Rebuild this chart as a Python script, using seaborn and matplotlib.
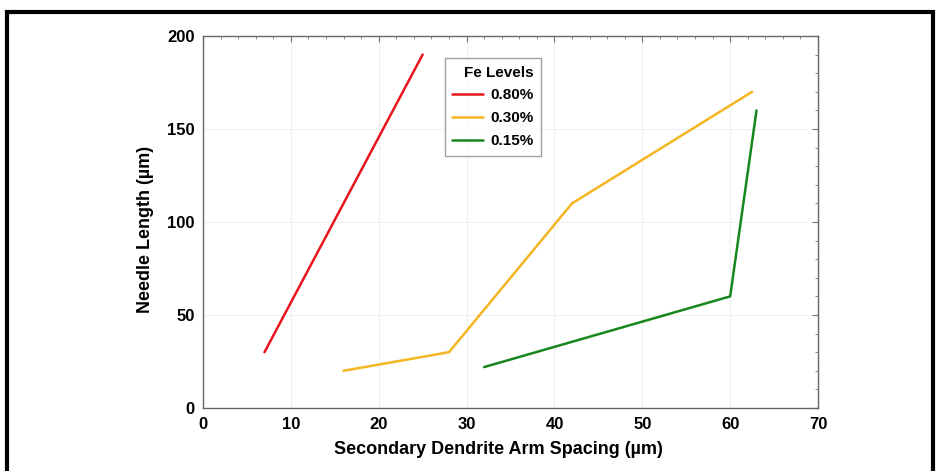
import matplotlib
matplotlib.use("Agg")
import matplotlib.pyplot as plt
import seaborn as sns
import pandas as pd
from matplotlib.ticker import MultipleLocator
from matplotlib.patches import Rectangle

# Data
red_x = [7, 25]
red_y = [30, 190]
orange_x = [16, 28, 42, 62.5]
orange_y = [20, 30, 110, 170]
green_x = [32, 60, 63]
green_y = [22, 60, 160]
series_names = ["0.80%", "0.30%", "0.15%"]
colors = ["#e8161c", "#f5b520", "#17861c"]

df = pd.concat([
    pd.DataFrame({"x": red_x, "y": red_y, "Fe": series_names[0]}),
    pd.DataFrame({"x": orange_x, "y": orange_y, "Fe": series_names[1]}),
    pd.DataFrame({"x": green_x, "y": green_y, "Fe": series_names[2]}),
], ignore_index=True)

sns.set_theme(style="white")
plt.rcParams['font.family'] = ['Liberation Sans', 'DejaVu Sans']

fig = plt.figure(figsize=(9.38, 4.71), dpi=100)
ax = fig.add_axes([0.2164, 0.1338, 0.6557, 0.7898])

sns.lineplot(data=df, x="x", y="y", hue="Fe", palette=colors, sort=False,
             linewidth=1.8, ax=ax, estimator=None)

ax.set_xlim(0, 70)
ax.set_ylim(0, 200)
ax.xaxis.set_major_locator(MultipleLocator(10))
ax.xaxis.set_minor_locator(MultipleLocator(2))
ax.yaxis.set_major_locator(MultipleLocator(50))
ax.yaxis.set_minor_locator(MultipleLocator(10))
ax.tick_params(which="both", direction="in", top=True, right=True, colors="#777777",
               labelcolor="black")
ax.tick_params(which="major", length=4, width=0.8, labelsize=12)
ax.tick_params(which="minor", length=2.5, width=0.6)
ax.tick_params(axis="x", which="major", pad=6.5)
ax.tick_params(axis="y", which="major", pad=6)
for lab in ax.get_xticklabels() + ax.get_yticklabels():
    lab.set_fontweight("bold")
ax.grid(True, which="major", color="#f0f0f0", linewidth=0.8)
for s in ax.spines.values():
    s.set_color("#666666")
    s.set_linewidth(1.0)

ax.set_xlabel("Secondary Dendrite Arm Spacing (µm)", fontsize=13, fontweight="bold",
              color="black")
ax.set_ylabel("Needle Length (µm)", fontsize=13, fontweight="bold", color="black")
ax.xaxis.set_label_coords(0.48, -0.088)
ax.yaxis.set_label_coords(-0.079, 0.48)

leg = ax.legend(title="Fe Levels", loc="upper left", bbox_to_anchor=(0.393, 0.941),
                borderaxespad=0, frameon=True, fancybox=False, fontsize=11,
                title_fontsize=11, handlelength=2.0, handletextpad=0.5,
                labelspacing=0.58, borderpad=0.5, alignment="right")
leg.get_frame().set_edgecolor("#888888")
leg.get_frame().set_linewidth(1.0)
for t in leg.get_texts():
    t.set_fontweight("bold")
    t.set_color("black")
leg.get_title().set_fontweight("bold")
leg.get_title().set_color("black")

fig.patches.append(Rectangle((0.0075, -0.05), 0.987, 1.05 - 12/471, transform=fig.transFigure,
                             fill=False, edgecolor="black", linewidth=3))

fig.savefig("out.png", dpi=100)
